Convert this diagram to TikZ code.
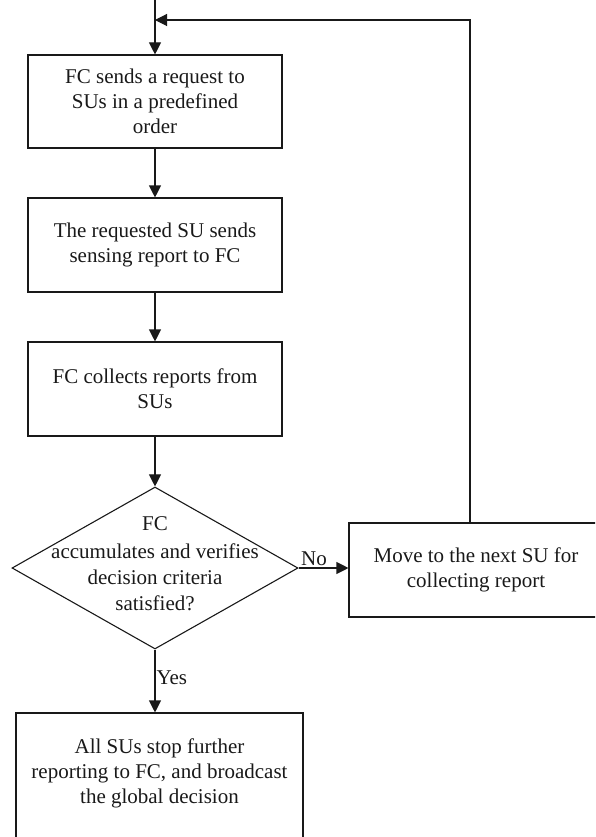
\documentclass[tikz,border=0pt]{standalone}
\usepackage{fontspec}
\setmainfont{Liberation Serif}
\usetikzlibrary{arrows.meta,shapes.geometric}

\begin{document}
\begin{tikzpicture}[x=1pt, y=-1pt,
    line width=1.1pt,
    every node/.style={font=\fontsize{21}{25}\selectfont, text=black!90},
    stepbox/.style={draw=black!90, rectangle, minimum width=254pt, minimum height=94pt, inner sep=0pt, align=center},
    decision/.style={draw=black!90, diamond, minimum width=286pt, minimum height=162pt, inner sep=0pt},
    flow/.style={draw=black!90, -{Triangle[length=12pt, width=12pt]}}]

    % Page frame
    \useasboundingbox (0,0) rectangle (595,837);
    \clip (0,0) rectangle (595,837);

    % Flow steps
    \node[stepbox, minimum height=93pt] (req) at (155,101.5) {FC sends a request to\\SUs in a predefined\\order};
    \node[stepbox] (send) at (155,245) {The requested SU sends\\sensing report to FC};
    \node[stepbox] (collect) at (155,389) {FC collects reports from\\SUs};
    \node[decision, label={[align=center, yshift=4pt, font=\fontsize{21}{26}\selectfont]center:FC\\[2pt]accumulates and verifies\\decision criteria\\satisfied?}] (dec) at (155,568) {};
    \node[stepbox] (next) at (476,570) {Move to the next SU for\\collecting report};
    \node[stepbox, minimum width=287pt, minimum height=140pt, label={[align=center, yshift=10pt]center:All SUs stop further\\reporting to FC, and broadcast\\the global decision}] (done) at (159.5,783) {};

    % Loop coordinates
    \coordinate (entry) at (155,0);
    \coordinate (join) at (155,20);
    \coordinate (turn) at (470,20);

    % Connectors
    \draw[flow] (entry) -- (req);
    \draw[flow] (req) -- (send);
    \draw[flow] (send) -- (collect);
    \draw[flow] (collect) -- (dec);
    \draw[flow] (dec.east) -- node[above, pos=0.31, inner sep=2pt] {No} (next.west |- dec.east);
    \draw[flow] (dec.south) -- node[right, pos=0.44, inner sep=1pt] {Yes} (dec.south |- done.north);
    \draw[flow] (next.north -| turn) -- (turn) -- (join);
\end{tikzpicture}
\end{document}
